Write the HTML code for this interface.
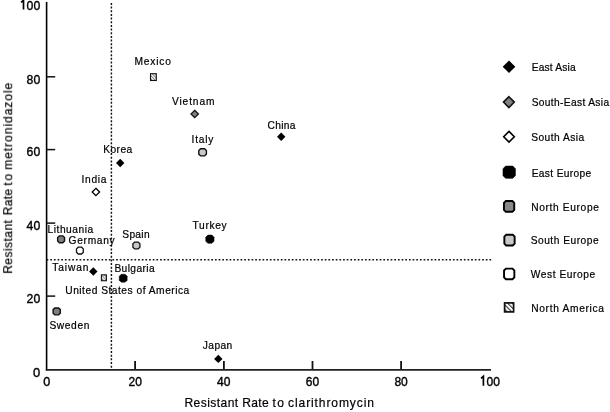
<!DOCTYPE html>
<html><head><meta charset="utf-8"><style>
html,body{margin:0;padding:0;background:#fff;}
body{width:610px;height:412px;overflow:hidden;}
svg{display:block;font-family:"Liberation Sans",sans-serif;-webkit-font-smoothing:antialiased;}
text{will-change:transform;}
</style></head><body>
<svg width="610" height="412" viewBox="0 0 610 412">
<defs>
<pattern id="hatch" patternUnits="userSpaceOnUse" width="2.2" height="2.2" patternTransform="rotate(-45)">
<rect width="2.2" height="2.2" fill="#f2f2f2"/><rect width="0.8" height="2.2" fill="#777"/></pattern>
<pattern id="hatch2" patternUnits="userSpaceOnUse" width="3.2" height="3.2" patternTransform="rotate(-45)">
<rect width="3.2" height="3.2" fill="#fff"/><rect width="1.1" height="3.2" fill="#333"/></pattern>
</defs>
<rect width="610" height="412" fill="#fff"/>
<line x1="111.4" y1="2.9" x2="111.4" y2="369" stroke="#111" stroke-width="1.45" stroke-dasharray="2.0 1.664"/>
<line x1="46.6" y1="259.8" x2="491.5" y2="259.8" stroke="#111" stroke-width="1.6" stroke-dasharray="1.7 1.96"/>
<line x1="46.6" y1="2" x2="46.6" y2="370.5" stroke="#000" stroke-width="1.6"/>
<line x1="45.8" y1="369.8" x2="491" y2="369.8" stroke="#202020" stroke-width="1.7"/>
<line x1="46.6" y1="76.8" x2="55.2" y2="76.8" stroke="#111" stroke-width="1.5"/>
<line x1="46.6" y1="149.6" x2="55.2" y2="149.6" stroke="#111" stroke-width="1.5"/>
<line x1="46.6" y1="223.1" x2="55.2" y2="223.1" stroke="#111" stroke-width="1.5"/>
<line x1="46.6" y1="296.1" x2="55.2" y2="296.1" stroke="#111" stroke-width="1.5"/>
<line x1="135.1" y1="361" x2="135.1" y2="369" stroke="#111" stroke-width="1.8"/>
<line x1="223.9" y1="361" x2="223.9" y2="369" stroke="#111" stroke-width="1.8"/>
<line x1="312.5" y1="361" x2="312.5" y2="369" stroke="#111" stroke-width="1.8"/>
<line x1="401.1" y1="361" x2="401.1" y2="369" stroke="#111" stroke-width="1.8"/>
<path d="M21.0,2.3 L23.5,0.3 L23.5,9.6" fill="none" stroke="#000" stroke-width="1.7" stroke-linejoin="miter"/>
<text x="40.2" y="9.6" font-size="13.6" text-anchor="end" fill="#000" stroke="#000" stroke-width="0.4" textLength="13.6" lengthAdjust="spacingAndGlyphs" >00</text>
<path d="M481.0,378.4 L483.4,376.4 L483.4,385.8" fill="none" stroke="#000" stroke-width="1.7" stroke-linejoin="miter"/>
<text x="493.2" y="386" font-size="13.6" text-anchor="middle" fill="#000" stroke="#000" stroke-width="0.4" textLength="13.4" lengthAdjust="spacingAndGlyphs" >00</text>
<text x="40.2" y="83.5" font-size="13.6" text-anchor="end" fill="#000" stroke="#000" stroke-width="0.4" textLength="13.600000000000001" lengthAdjust="spacingAndGlyphs" >80</text>
<text x="40.2" y="156" font-size="13.6" text-anchor="end" fill="#000" stroke="#000" stroke-width="0.4" textLength="13.600000000000001" lengthAdjust="spacingAndGlyphs" >60</text>
<text x="40.2" y="229.6" font-size="13.6" text-anchor="end" fill="#000" stroke="#000" stroke-width="0.4" textLength="13.600000000000001" lengthAdjust="spacingAndGlyphs" >40</text>
<text x="40.2" y="302.5" font-size="13.6" text-anchor="end" fill="#000" stroke="#000" stroke-width="0.4" textLength="13.600000000000001" lengthAdjust="spacingAndGlyphs" >20</text>
<text x="40.2" y="376.5" font-size="13.6" text-anchor="end" fill="#000" stroke="#000" stroke-width="0.4" textLength="7.2" lengthAdjust="spacingAndGlyphs" >0</text>
<text x="46.8" y="386" font-size="13.6" text-anchor="middle" fill="#000" stroke="#000" stroke-width="0.4" textLength="7.0" lengthAdjust="spacingAndGlyphs" >0</text>
<text x="135.2" y="386" font-size="13.6" text-anchor="middle" fill="#000" stroke="#000" stroke-width="0.4" textLength="13.4" lengthAdjust="spacingAndGlyphs" >20</text>
<text x="223.8" y="386" font-size="13.6" text-anchor="middle" fill="#000" stroke="#000" stroke-width="0.4" textLength="13.4" lengthAdjust="spacingAndGlyphs" >40</text>
<text x="312.5" y="386" font-size="13.6" text-anchor="middle" fill="#000" stroke="#000" stroke-width="0.4" textLength="13.4" lengthAdjust="spacingAndGlyphs" >60</text>
<text x="401.1" y="386" font-size="13.6" text-anchor="middle" fill="#000" stroke="#000" stroke-width="0.4" textLength="13.4" lengthAdjust="spacingAndGlyphs" >80</text>
<g transform="translate(184.4,406.6) scale(0.93,1)"><text x="0" y="0" font-size="13" fill="#000" stroke="#000" stroke-width="0.2" textLength="57.85" lengthAdjust="spacing">Resistant</text></g>
<g transform="translate(242.2,406.6) scale(0.93,1)"><text x="0" y="0" font-size="13" fill="#000" stroke="#000" stroke-width="0.2" textLength="28.49" lengthAdjust="spacing">Rate</text></g>
<g transform="translate(272.4,406.6) scale(0.93,1)"><text x="0" y="0" font-size="13" fill="#000" stroke="#000" stroke-width="0.2" textLength="12.58" lengthAdjust="spacing">to</text></g>
<g transform="translate(288.1,406.6) scale(0.93,1)"><text x="0" y="0" font-size="13" fill="#000" stroke="#000" stroke-width="0.2" textLength="92.37" lengthAdjust="spacing">clarithromycin</text></g>
<g transform="translate(12.2,273.3) rotate(-90)"><g transform="translate(-0.5,0) scale(0.93,1)"><text x="0" y="0" font-size="13" fill="#000" stroke="#000" stroke-width="0.2" textLength="57.85" lengthAdjust="spacing">Resistant</text></g><g transform="translate(57.9,0) scale(0.93,1)"><text x="0" y="0" font-size="13" fill="#000" stroke="#000" stroke-width="0.2" textLength="28.49" lengthAdjust="spacing">Rate</text></g><g transform="translate(87.6,0) scale(0.93,1)"><text x="0" y="0" font-size="13" fill="#000" stroke="#000" stroke-width="0.2" textLength="12.58" lengthAdjust="spacing">to</text></g><g transform="translate(103.5,0) scale(0.93,1)"><text x="0" y="0" font-size="13" fill="#000" stroke="#000" stroke-width="0.2" textLength="93.66" lengthAdjust="spacing">metronidazole</text></g></g>
<rect x="150.50" y="73.70" width="5.8" height="6.8" fill="url(#hatch)" stroke="#111" stroke-width="1.1"/>
<polygon points="194.7,110.3 198.39999999999998,114.0 194.7,117.7 191.0,114.0" fill="#808080" stroke="#111" stroke-width="1.3" stroke-linejoin="miter"/>
<polygon points="281.2,132.5 285.4,136.7 281.2,140.89999999999998 277.0,136.7" fill="#000"/>
<polygon points="200.60,148.70 204.60,148.70 206.40,150.50 206.40,154.10 204.60,155.90 200.60,155.90 198.80,154.10 198.80,150.50" fill="#c8c8c8" stroke="#111" stroke-width="1.4"/>
<polygon points="120.2,158.8 124.4,163.0 120.2,167.2 116.0,163.0" fill="#000"/>
<polygon points="95.9,188.3 99.60000000000001,192.0 95.9,195.7 92.2,192.0" fill="#fff" stroke="#000" stroke-width="1.3" stroke-linejoin="miter"/>
<polygon points="207.85,235.10 211.95,235.10 214.05,237.20 214.05,241.20 211.95,243.30 207.85,243.30 205.75,241.20 205.75,237.20" fill="#000" stroke="#000" stroke-width="0.5"/>
<polygon points="134.60,242.05 138.20,242.05 139.90,243.75 139.90,247.25 138.20,248.95 134.60,248.95 132.90,247.25 132.90,243.75" fill="#c8c8c8" stroke="#111" stroke-width="1.3"/>
<polygon points="59.35,235.85 62.85,235.85 64.55,237.55 64.55,241.05 62.85,242.75 59.35,242.75 57.65,241.05 57.65,237.55" fill="#7f7f7f" stroke="#111" stroke-width="1.4"/>
<polygon points="78.20,247.20 81.60,247.20 83.30,248.90 83.30,252.30 81.60,254.00 78.20,254.00 76.50,252.30 76.50,248.90" fill="#fff" stroke="#111" stroke-width="1.3"/>
<polygon points="93.3,267.3 97.5,271.5 93.3,275.7 89.1,271.5" fill="#000"/>
<rect x="101.40" y="274.85" width="5.0" height="5.9" fill="url(#hatch)" stroke="#111" stroke-width="1.1"/>
<polygon points="121.25,274.25 125.15,274.25 127.15,276.25 127.15,280.15 125.15,282.15 121.25,282.15 119.25,280.15 119.25,276.25" fill="#000" stroke="#000" stroke-width="0.5"/>
<polygon points="54.80,307.95 58.60,307.95 60.30,309.65 60.30,313.15 58.60,314.85 54.80,314.85 53.10,313.15 53.10,309.65" fill="#7f7f7f" stroke="#111" stroke-width="1.4"/>
<polygon points="218.3,354.7 222.5,358.9 218.3,363.09999999999997 214.10000000000002,358.9" fill="#000"/>
<g transform="translate(134.4,64.9) scale(0.93,1)"><text x="0" y="0" font-size="11" fill="#000" stroke="#000" stroke-width="0.22" textLength="39.35" lengthAdjust="spacing">Mexico</text></g>
<g transform="translate(172.0,104.9) scale(0.93,1)"><text x="0" y="0" font-size="11" fill="#000" stroke="#000" stroke-width="0.22" textLength="45.70" lengthAdjust="spacing">Vietnam</text></g>
<g transform="translate(267.5,128.5) scale(0.93,1)"><text x="0" y="0" font-size="11" fill="#000" stroke="#000" stroke-width="0.22" textLength="30.00" lengthAdjust="spacing">China</text></g>
<g transform="translate(191.5,142.6) scale(0.93,1)"><text x="0" y="0" font-size="11" fill="#000" stroke="#000" stroke-width="0.22" textLength="23.55" lengthAdjust="spacing">Italy</text></g>
<g transform="translate(103.2,152.8) scale(0.93,1)"><text x="0" y="0" font-size="11" fill="#000" stroke="#000" stroke-width="0.22" textLength="31.29" lengthAdjust="spacing">Korea</text></g>
<g transform="translate(81.6,182.6) scale(0.93,1)"><text x="0" y="0" font-size="11" fill="#000" stroke="#000" stroke-width="0.22" textLength="26.77" lengthAdjust="spacing">India</text></g>
<g transform="translate(192.6,228.6) scale(0.93,1)"><text x="0" y="0" font-size="11" fill="#000" stroke="#000" stroke-width="0.22" textLength="36.56" lengthAdjust="spacing">Turkey</text></g>
<g transform="translate(122.3,237.5) scale(0.93,1)"><text x="0" y="0" font-size="11" fill="#000" stroke="#000" stroke-width="0.22" textLength="29.35" lengthAdjust="spacing">Spain</text></g>
<g transform="translate(47.6,233.2) scale(0.93,1)"><text x="0" y="0" font-size="11" fill="#000" stroke="#000" stroke-width="0.22" textLength="48.92" lengthAdjust="spacing">Lithuania</text></g>
<g transform="translate(68.6,244.1) scale(0.93,1)"><text x="0" y="0" font-size="11" fill="#000" stroke="#000" stroke-width="0.22" textLength="49.57" lengthAdjust="spacing">Germany</text></g>
<g transform="translate(52.2,271.3) scale(0.93,1)"><text x="0" y="0" font-size="11" fill="#000" stroke="#000" stroke-width="0.22" textLength="39.03" lengthAdjust="spacing">Taiwan</text></g>
<g transform="translate(114.4,272.2) scale(0.93,1)"><text x="0" y="0" font-size="11" fill="#000" stroke="#000" stroke-width="0.22" textLength="43.23" lengthAdjust="spacing">Bulgaria</text></g>
<g transform="translate(65.3,293.8) scale(0.93,1)"><text x="0" y="0" font-size="11" fill="#000" stroke="#000" stroke-width="0.22" textLength="133.33" lengthAdjust="spacing">United States of America</text></g>
<g transform="translate(49.4,328.9) scale(0.93,1)"><text x="0" y="0" font-size="11" fill="#000" stroke="#000" stroke-width="0.22" textLength="43.01" lengthAdjust="spacing">Sweden</text></g>
<g transform="translate(202.8,348.6) scale(0.93,1)"><text x="0" y="0" font-size="11" fill="#000" stroke="#000" stroke-width="0.22" textLength="31.72" lengthAdjust="spacing">Japan</text></g>
<polygon points="509.0,60.400000000000006 515.3,66.7 509.0,73.0 502.7,66.7" fill="#000"/>
<polygon points="508.9,96.69999999999999 514.3,102.1 508.9,107.5 503.5,102.1" fill="#808080" stroke="#111" stroke-width="1.6" stroke-linejoin="miter"/>
<polygon points="509.0,131.39999999999998 514.3,136.7 509.0,142.0 503.7,136.7" fill="#fff" stroke="#000" stroke-width="1.6" stroke-linejoin="miter"/>
<polygon points="505.60,166.10 512.80,166.10 515.40,168.70 515.40,175.70 512.80,178.30 505.60,178.30 503.00,175.70 503.00,168.70" fill="#000" stroke="#000" stroke-width="0.6"/>
<polygon points="505.85,201.00 512.35,201.00 514.25,202.90 514.25,209.90 512.35,211.80 505.85,211.80 503.95,209.90 503.95,202.90" fill="#888" stroke="#000" stroke-width="1.9"/>
<polygon points="506.25,234.70 512.75,234.70 514.65,236.60 514.65,243.60 512.75,245.50 506.25,245.50 504.35,243.60 504.35,236.60" fill="#c8c8c8" stroke="#000" stroke-width="1.9"/>
<polygon points="505.95,268.60 512.45,268.60 514.35,270.50 514.35,277.30 512.45,279.20 505.95,279.20 504.05,277.30 504.05,270.50" fill="#fff" stroke="#000" stroke-width="1.9"/>
<rect x="504.60" y="302.90" width="9.0" height="9.0" fill="url(#hatch2)" stroke="#111" stroke-width="1.7"/>
<g transform="translate(531.7,71.0) scale(0.93,1)"><text x="0" y="0" font-size="11" fill="#000" stroke="#000" stroke-width="0.22" textLength="47.20" lengthAdjust="spacing">East Asia</text></g>
<g transform="translate(531.7,106.4) scale(0.93,1)"><text x="0" y="0" font-size="11" fill="#000" stroke="#000" stroke-width="0.22" textLength="83.23" lengthAdjust="spacing">South-East Asia</text></g>
<g transform="translate(531.2,141.0) scale(0.93,1)"><text x="0" y="0" font-size="11" fill="#000" stroke="#000" stroke-width="0.22" textLength="57.10" lengthAdjust="spacing">South Asia</text></g>
<g transform="translate(531.7,176.5) scale(0.93,1)"><text x="0" y="0" font-size="11" fill="#000" stroke="#000" stroke-width="0.22" textLength="64.09" lengthAdjust="spacing">East Europe</text></g>
<g transform="translate(531.2,210.7) scale(0.93,1)"><text x="0" y="0" font-size="11" fill="#000" stroke="#000" stroke-width="0.22" textLength="72.80" lengthAdjust="spacing">North Europe</text></g>
<g transform="translate(530.7,244.4) scale(0.93,1)"><text x="0" y="0" font-size="11" fill="#000" stroke="#000" stroke-width="0.22" textLength="73.01" lengthAdjust="spacing">South Europe</text></g>
<g transform="translate(530.7,278.2) scale(0.93,1)"><text x="0" y="0" font-size="11" fill="#000" stroke="#000" stroke-width="0.22" textLength="69.46" lengthAdjust="spacing">West Europe</text></g>
<g transform="translate(531.2,311.6) scale(0.93,1)"><text x="0" y="0" font-size="11" fill="#000" stroke="#000" stroke-width="0.22" textLength="78.28" lengthAdjust="spacing">North America</text></g>
</svg>
</body></html>
